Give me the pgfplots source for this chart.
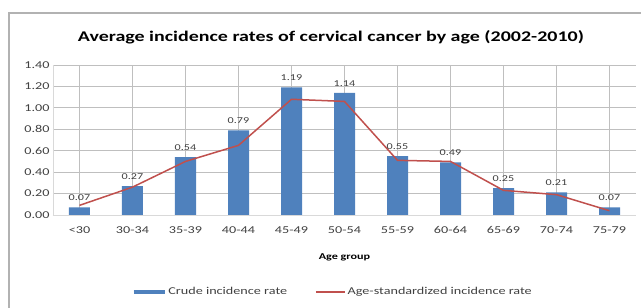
\documentclass[border=0pt]{standalone}
\usepackage{pgfplots}
\pgfplotsset{compat=1.18}
\usepackage{fontspec}
\setmainfont[FakeStretch=1.35]{Carlito}
\definecolor{barblue}{HTML}{4F81BD}
\definecolor{linered}{HTML}{C0504D}
\definecolor{txt}{HTML}{404040}
\definecolor{grid}{HTML}{D9D9D9}
\begin{document}
\begin{tikzpicture}[x=1pt,y=1pt]
\path[use as bounding box] (0pt,0pt) rectangle (641pt,308pt);
\draw[gray!60, line width=1.8pt] (9pt,295pt) rectangle (670pt,-30pt);
\node[font=\fontsize{14.8}{17}\selectfont\bfseries, text=black] at (331pt,271pt) {Average incidence rates of cervical cancer by age (2002-2010)};
\begin{axis}[
  at={(53pt,93pt)}, anchor=south west,
  scale only axis, width=583pt, height=150pt,
  xmin=-0.5, xmax=10.5, ymin=0, ymax=1.4,
  xtick={0,...,10},
  xticklabels={<30,30-34,35-39,40-44,45-49,50-54,55-59,60-64,65-69,70-74,75-79},
  ytick={0,0.2,...,1.4},
  yticklabel style={/pgf/number format/.cd, fixed, fixed zerofill, precision=2, assume math mode=true},
  tick label style={font=\fontsize{10.5}{12}\selectfont, text=txt},
  xticklabel style={yshift=-8pt},
  major tick length=0pt,
  ymajorgrids, grid style={grid, line width=0.8pt},
  axis x line*=bottom, axis y line*=left,
  axis line style={grid, line width=0.8pt},
  xlabel={Age group},
  xlabel style={font=\fontsize{9}{10}\selectfont\bfseries, text=black, at={(axis description cs:0.5,-0.28)}, anchor=center},
  legend style={at={(axis description cs:0.48,-0.513)}, anchor=center, draw=none, fill=none,
    font=\fontsize{10.5}{12}\selectfont, text=txt, legend columns=2,
    /tikz/every even column/.append style={column sep=26pt}},
  clip=false,
]
\addplot[ybar, bar width=21pt, fill=barblue, draw=none,
  nodes near coords, point meta=explicit symbolic,
  every node near coord/.append style={font=\fontsize{9}{10}\selectfont, text=txt, yshift=3pt},
  legend image code/.code={\draw[barblue, line width=3.5pt] (0pt,0pt) -- (31pt,0pt);}]
  table[meta=lab] {
  x y lab
  0 0.07 0.07
  1 0.27 0.27
  2 0.54 0.54
  3 0.79 0.79
  4 1.19 1.19
  5 1.14 1.14
  6 0.55 0.55
  7 0.49 0.49
  8 0.25 0.25
  9 0.21 0.21
  10 0.07 0.07
  };
\addlegendentry{Crude incidence rate}
\addplot[linered, line width=1.5pt, mark=none, sharp plot,
  legend image code/.code={\draw[linered, line width=1.5pt] (0pt,0pt) -- (29pt,0pt);}]
  coordinates {(0,0.09) (1,0.26) (2,0.50) (3,0.65) (4,1.08) (5,1.06) (6,0.51) (7,0.50) (8,0.23) (9,0.19) (10,0.04)};
\addlegendentry{Age-standardized incidence rate}
\end{axis}
\end{tikzpicture}
\end{document}
